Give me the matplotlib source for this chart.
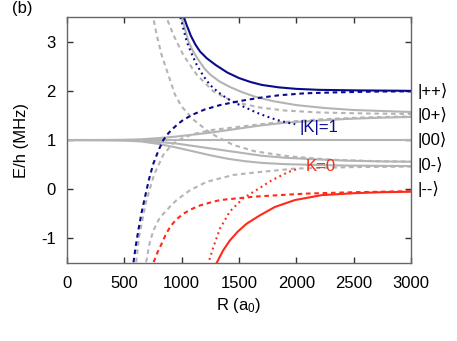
import numpy as np
import matplotlib
matplotlib.use('Agg')
import matplotlib.pyplot as plt

plt.rcParams['font.family'] = ['Liberation Sans', 'DejaVu Sans']
plt.rcParams['mathtext.default'] = 'regular'
plt.rcParams['font.size'] = 12

BLUE = '#0a0a8c'
RED = '#ff2a1a'
GREY = '#b4b4b4'

# K=1 curves, R in a0, E in MHz
blue_solid_r = [1005, 1040, 1080, 1120, 1160, 1220, 1300, 1400, 1500, 1600, 1700, 1850, 2000, 2200, 2500, 2750, 3000]
blue_solid_e = [3.6, 3.36, 3.12, 2.94, 2.80, 2.66, 2.52, 2.37, 2.26, 2.18, 2.12, 2.07, 2.04, 2.02, 2.01, 2.005, 2.0]
blue_dash_r = [560, 579, 600, 622, 650, 680, 715, 753, 800, 840, 885, 927, 970, 1014, 1100, 1200, 1334, 1500, 1683,
               1850, 2075, 2363, 2700, 3000]
blue_dash_e = [-1.65, -1.5, -1.15, -0.84, -0.48, -0.16, 0.2, 0.52, 0.80, 1.0, 1.14, 1.24, 1.33, 1.41, 1.52, 1.62,
               1.71, 1.79, 1.86, 1.91, 1.95, 1.97, 1.985, 1.99]
blue_dot_r = [975, 1000, 1044, 1090, 1131, 1190, 1247, 1320, 1392, 1480, 1567, 1650, 1740, 1830, 1910, 1990]
blue_dot_e = [3.6, 3.4, 3.0, 2.74, 2.53, 2.30, 2.12, 1.97, 1.85, 1.74, 1.65, 1.56, 1.48, 1.41, 1.36, 1.32]

# K=0 curves
red_solid_r = [1298, 1305, 1360, 1421, 1490, 1567, 1683, 1814, 1988, 2221, 2511, 2750, 3000]
red_solid_e = [-1.62, -1.5, -1.25, -1.04, -0.86, -0.70, -0.53, -0.36, -0.22, -0.12, -0.08, -0.06, -0.05]
red_dash_r = [745, 753, 790, 825, 860, 898, 950, 1014, 1080, 1160, 1250, 1334, 1509, 1640, 1850, 2075, 2511, 3000]
red_dash_e = [-1.65, -1.5, -1.28, -1.11, -0.93, -0.77, -0.62, -0.5, -0.41, -0.33, -0.27, -0.22, -0.18, -0.15,
              -0.12, -0.09, -0.06, -0.04]
red_dot_r = [1225, 1233, 1276, 1334, 1421, 1538, 1650, 1785, 1930, 2020]
red_dot_e = [-1.65, -1.5, -1.18, -0.8, -0.45, -0.18, -0.02, 0.18, 0.35, 0.42]

# other curves (grey)
fan_r = [0, 300, 500, 650, 800, 950, 1100, 1250, 1400, 1550, 1700, 1900, 2150, 2450, 2750, 3000]
grey_up_e = [1, 1.0, 1.005, 1.015, 1.04, 1.07, 1.11, 1.15, 1.2, 1.25, 1.3, 1.35, 1.39, 1.43, 1.455, 1.47]
grey_mid_e = [1, 1.0, 0.995, 0.985, 0.96, 0.93, 0.88, 0.83, 0.78, 0.73, 0.68, 0.64, 0.61, 0.58, 0.565, 0.56]
grey_low_e = [1, 0.995, 0.99, 0.97, 0.92, 0.85, 0.77, 0.69, 0.62, 0.57, 0.535, 0.51, 0.495, 0.48, 0.475, 0.47]
grey_flat_r = [0, 3000]
grey_flat_e = [1, 1]
grey_top_r = [990, 1030, 1060, 1100, 1140, 1200, 1250, 1330, 1420, 1520, 1640, 1800, 2000, 2250, 2500, 2750, 3000]
grey_top_e = [3.6, 3.25, 3.0, 2.8, 2.65, 2.45, 2.33, 2.19, 2.08, 1.98, 1.88, 1.79, 1.71, 1.65, 1.61, 1.59, 1.57]

gd1_r = [748, 753, 782, 825, 883, 942, 1000, 1100, 1218, 1305, 1450, 1640, 1930, 2300, 2700, 3000]
gd1_e = [3.6, 3.48, 3.14, 2.73, 2.33, 1.92, 1.68, 1.42, 1.2, 1.07, 0.9, 0.77, 0.67, 0.6, 0.57, 0.56]
gd2_r = [862, 869, 927, 1014, 1131, 1276, 1450, 1683, 1900, 2200, 2600, 3000]
gd2_e = [3.6, 3.48, 3.14, 2.73, 2.33, 1.99, 1.78, 1.66, 1.6, 1.56, 1.54, 1.53]
gd3_r = [590, 602, 630, 690, 760, 840, 920, 1000, 1100, 1250, 1500, 1800, 2200, 2600, 3000]
gd3_e = [-1.65, -1.5, -0.95, -0.25, 0.3, 0.7, 0.92, 1.03, 1.12, 1.2, 1.27, 1.35, 1.42, 1.46, 1.48]
gd4_r = [680, 689, 720, 753, 800, 840, 900, 956, 1073, 1218, 1450, 1683, 1988, 2500, 3000]
gd4_e = [-1.65, -1.5, -1.1, -0.84, -0.62, -0.5, -0.35, -0.22, -0.02, 0.15, 0.29, 0.35, 0.42, 0.45, 0.46]

state_labels = ['|++⟩', '|0+⟩', '|00⟩', '|0-⟩', '|--⟩']
state_energies = [2.0, 1.5, 1.0, 0.5, 0.0]

fig = plt.figure(figsize=(4.57, 3.41), dpi=100)
ax = fig.add_axes([0.1466, 0.2287, 0.7527, 0.7213])

dash = (0, (2.2, 1.8))
dot = (0, (0.9, 1.7))
lw = 1.5

for e in [grey_up_e, grey_mid_e, grey_low_e]:
    ax.plot(fan_r, e, color=GREY, lw=lw)
ax.plot(grey_flat_r, grey_flat_e, color=GREY, lw=lw)
ax.plot(grey_top_r, grey_top_e, color=GREY, lw=lw)
for r, e in [(gd1_r, gd1_e), (gd2_r, gd2_e), (gd3_r, gd3_e), (gd4_r, gd4_e)]:
    ax.plot(r, e, color=GREY, lw=lw, linestyle=dash)

ax.plot(red_dash_r, red_dash_e, color=RED, lw=lw, linestyle=dash)
ax.plot(red_dot_r, red_dot_e, color=RED, lw=lw, linestyle=dot)
ax.plot(red_solid_r, red_solid_e, color=RED, lw=lw)

ax.plot(blue_dash_r, blue_dash_e, color=BLUE, lw=lw, linestyle=dash)
ax.plot(blue_dot_r, blue_dot_e, color=BLUE, lw=lw, linestyle=dot)
ax.plot(blue_solid_r, blue_solid_e, color=BLUE, lw=lw)

ax.text(2030, 1.25, '|K|=1', color=BLUE, va='center', ha='left')
ax.text(2080, 0.47, 'K=0', color=RED, va='center', ha='left')

for lab, e in zip(state_labels, state_energies):
    ax.text(3060, e, lab, va='center', ha='left', clip_on=False)

ax.set_xlim(0, 3000)
ax.set_ylim(-1.5, 3.5)
ax.set_xticks(np.arange(0, 3001, 500))
ax.set_yticks([-1, 0, 1, 2, 3])
ax.set_yticklabels(['-1', '0', '1', '2', '3'])
ax.tick_params(direction='in', top=True, right=True, length=4, width=1, color='#333333')
ax.tick_params(axis='x', pad=9)
ax.tick_params(axis='y', pad=8)
for s in ax.spines.values():
    s.set_color('#666666')
    s.set_linewidth(1.0)

ax.set_xlabel('R (a$_0$)', labelpad=4)
ax.set_ylabel('E/h (MHz)', labelpad=9)
fig.text(22 / 457, 1 - 9 / 341, '(b)', ha='center', va='center')

fig.savefig('out.png', dpi=100)
